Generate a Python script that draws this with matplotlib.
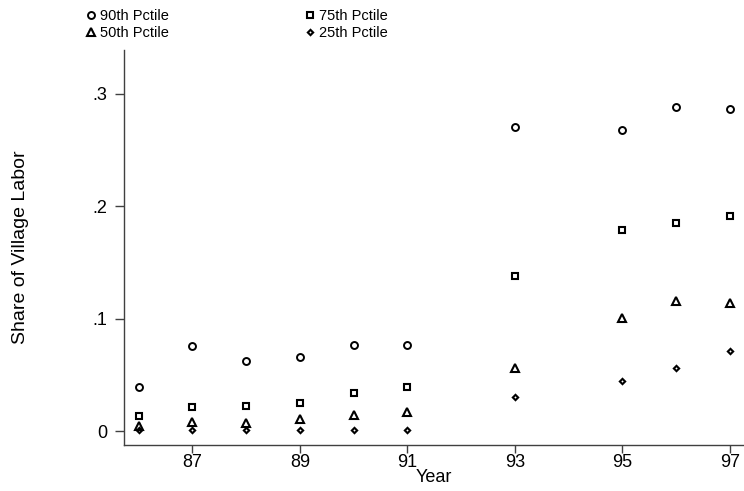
import matplotlib
matplotlib.use("Agg")
import matplotlib.pyplot as plt

plt.rcParams['font.family'] = ['Liberation Sans', 'DejaVu Sans']

years = [86, 87, 88, 89, 90, 91, 93, 95, 96, 97]
p90 = [0.0388, 0.0758, 0.0625, 0.0660, 0.0764, 0.0764, 0.2700, 0.2676, 0.2880, 0.2865]
p75 = [0.0133, 0.0210, 0.0222, 0.0246, 0.0340, 0.0388, 0.1380, 0.1790, 0.1850, 0.1910]
p50 = [0.0044, 0.0080, 0.0074, 0.0104, 0.0142, 0.0172, 0.0563, 0.1007, 0.1156, 0.1135]
p25 = [0.0010, 0.0008, 0.0008, 0.0005, 0.0008, 0.0008, 0.0300, 0.0444, 0.0557, 0.0711]

xticks = [87, 89, 91, 93, 95, 97]
yticks = [0, 0.1, 0.2, 0.3]
ytick_labels = ['0', '.1', '.2', '.3']

W, H = 744, 491
fig = plt.figure(figsize=(W / 100, H / 100), dpi=100)
ax = fig.add_axes([124 / W, 1 - 445 / H, 619 / W, 395 / H])

common = dict(linestyle='none', color='black', markerfacecolor='none')
h90, = ax.plot(years, p90, marker='o', markersize=5.0, markeredgewidth=1.4, label='90th Pctile', **common)
h75, = ax.plot(years, p75, marker='s', markersize=5.0, markeredgewidth=1.5, label='75th Pctile', **common)
h50, = ax.plot(years, p50, marker='^', markersize=5.6, markeredgewidth=1.5, label='50th Pctile', **common)
h25, = ax.plot(years, p25, marker='D', markersize=2.7, markeredgewidth=1.5, label='25th Pctile', **common)

ax.set_xlim(85.726, 97.242)
ax.set_ylim(-0.01244, 0.3387)
ax.set_xticks(xticks)
ax.set_xticklabels([str(x) for x in xticks])
ax.set_yticks(yticks)
ax.set_yticklabels(ytick_labels)

for s in ['top', 'right']:
    ax.spines[s].set_visible(False)
for s in ['left', 'bottom']:
    ax.spines[s].set_color('#404040')
    ax.spines[s].set_linewidth(1.0)

ax.tick_params(axis='both', direction='out', width=1.0, color='#404040', labelsize=13, labelcolor='black')
ax.tick_params(axis='x', length=5.8, pad=0.5)
ax.tick_params(axis='y', length=6.5, pad=5.5)

ax.set_xlabel('Year', fontsize=13)
ax.xaxis.set_label_coords(0.5, -0.0598)
ax.set_ylabel('Share of Village Labor', fontsize=14)
ax.yaxis.set_label_coords(-0.1527, 0.5)

fig.legend(handles=[h90, h50, h75, h25], ncol=2, frameon=False, fontsize=10.5,
           loc='upper left', bbox_to_anchor=(85 / W, 1 - 9 / H),
           borderpad=0, borderaxespad=0, handlelength=0.8, handletextpad=0.22,
           columnspacing=9.3, labelspacing=0.2)

fig.savefig('out.png', dpi=100)
